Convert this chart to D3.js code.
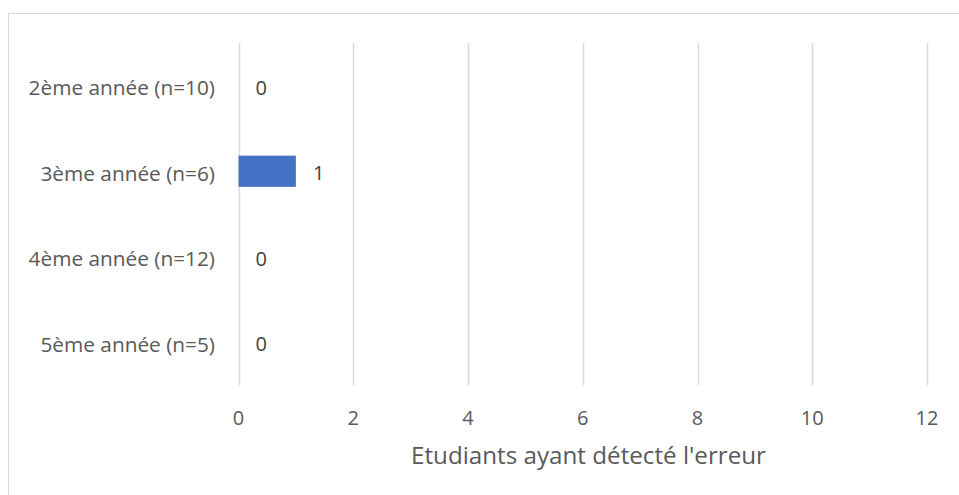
<!DOCTYPE html>
<html><head><meta charset="utf-8">
<script src="https://cdn.jsdelivr.net/npm/d3@7"></script>
<style>body{margin:0;background:#fff}svg{display:block}text{font-family:"Open Sans","Noto Sans",sans-serif}</style>
</head><body>
<svg id="c" width="959" height="495"></svg>
<script>
const categories = ["2ème année (n=10)","3ème année (n=6)","4ème année (n=12)","5ème année (n=5)"];
const values = [0,1,0,0];
const xTicks = [0,2,4,6,8,10,12];
const xTitle = "Etudiants ayant détecté l'erreur";

(function(){
const svg = d3.select("#c");
const W=959,H=495;
svg.append("rect").attr("x",8.5).attr("y",13.5).attr("width",W).attr("height",H)
  .attr("fill","#fff").attr("stroke","#d9d9d9").attr("stroke-width",1);

const pL=238.5,pR=927,pT=43,pB=385;
const x=d3.scaleLinear().domain([0,12]).range([pL,pR]);
const y=d3.scaleBand().domain(categories).range([pT,pB]).paddingInner(0.635).paddingOuter(0.3175);

svg.append("g").selectAll("line").data(xTicks).join("line")
  .attr("x1",d=>Math.round(x(d))+0.5).attr("x2",d=>Math.round(x(d))+0.5)
  .attr("y1",pT).attr("y2",pB).attr("stroke","#d9d9d9").attr("stroke-width",1.5);

svg.append("g").selectAll("rect").data(categories).join("rect")
  .attr("x",x(0)).attr("y",d=>y(d)).attr("height",y.bandwidth())
  .attr("width",(d,i)=>x(values[i])-x(0)).attr("fill","#4472c4");

svg.append("g").selectAll("text").data(categories).join("text")
  .attr("x",215).attr("y",d=>y(d)+y.bandwidth()/2+2).attr("dy","0.35em")
  .attr("text-anchor","end").attr("fill","#595959").attr("font-size",20.8).text(d=>d);

svg.append("g").selectAll("text").data(categories).join("text")
  .attr("x",(d,i)=>x(values[i])+17).attr("y",d=>y(d)+y.bandwidth()/2+2).attr("dy","0.35em")
  .attr("text-anchor","start").attr("fill","#404040").attr("font-size",20).text((d,i)=>values[i]);

svg.append("g").selectAll("text").data(xTicks).join("text")
  .attr("x",d=>x(d)).attr("y",418).attr("dy","0.35em")
  .attr("text-anchor","middle").attr("fill","#595959").attr("font-size",20).text(d=>d);

svg.append("text").attr("x",588.5).attr("y",456).attr("dy","0.35em")
  .attr("text-anchor","middle").attr("fill","#595959").attr("font-size",24.2).text(xTitle);
})();
</script>
</body></html>
